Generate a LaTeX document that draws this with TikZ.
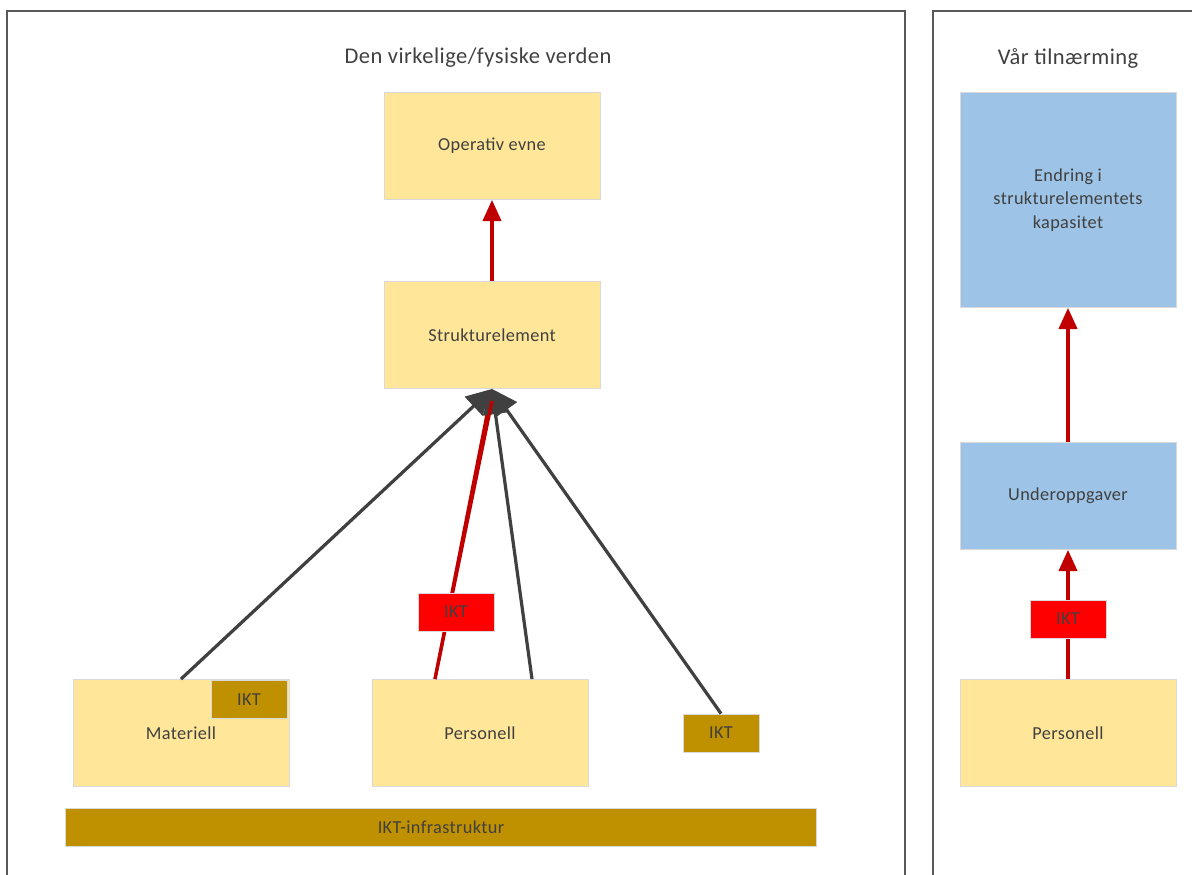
\documentclass[tikz,border=0pt]{standalone}
\usepackage{fontspec}
\setmainfont{Carlito}
\usetikzlibrary{arrows.meta,positioning}
\definecolor{gul}{HTML}{FFE699}
\definecolor{blaa}{HTML}{9DC3E6}
\definecolor{gull}{HTML}{BF9000}
\definecolor{rod}{HTML}{FF0000}
\definecolor{pil}{HTML}{C00000}
\definecolor{mork}{HTML}{404040}
\definecolor{kant}{HTML}{DAD8D8}
\definecolor{ramme}{HTML}{595959}
\tikzset{
  box/.style={draw=kant,fill=gul,align=center,inner sep=2pt,text=mork,
    font=\fontsize{13}{16.5}\selectfont\addfontfeature{LetterSpace=2},
    minimum width=5.4cm,minimum height=2.675cm,line width=0.6pt},
  bbox/.style={box,fill=blaa},
  ikt/.style={box,fill=gull,minimum width=1.9cm,minimum height=0.95cm},
  rikt/.style={ikt,fill=rod},
  ar/.style={-{Triangle[length=15pt,width=13pt]},line width=2.3pt,draw=pil},
  gr/.style={-{Triangle[length=18pt,width=18pt]},line width=2.3pt,draw=mork},
  tittel/.style={font=\fontsize{16}{19}\selectfont\addfontfeature{LetterSpace=2},text=mork},
}

\begin{document}
\begin{tikzpicture}[x=0.025cm,y=-0.025cm]
\useasboundingbox (0,0) rectangle (1192,875);
% rammer
\draw[ramme,line width=0.8pt] (7,880) -- (7,11) -- (905,11) -- (905,880);
\draw[ramme,line width=0.8pt] (933,880) -- (933,11) -- (1196,11);
\node[tittel] (t1) at (478,58) {Den virkelige/fysiske verden};
\node[tittel] (t2) at (1068,58) {Vår tilnærming};
% venstre side
\node[box] (opev) at (492,146) {Operativ evne};
\node[box] (strel) at (492,335) {Strukturelement};
\node[box] (mat) at (181,733) {Materiell};
\node[box] (pers) at (480,733) {Personell};
\node[ikt,anchor=north east] (ikt1) at ([xshift=-0.05cm,yshift=-0.03cm]mat.north east) {IKT};
\node[ikt] (ikt3) at (721,733) {IKT};
\node[box,fill=gull,minimum width=18.75cm,minimum height=0.95cm] (infra) at (441,827) {IKT-infrastruktur};
\coordinate (pr) at (435,679);
\coordinate (pg) at (532,679);
\draw[ar] (pr) -- (strel.south);
\draw[gr] (mat.north) -- (strel.south);
\draw[gr] (pg) -- (strel.south);
\draw[gr] (ikt3.north) -- (strel.south);
\draw[pil,line width=2.3pt] (pr) -- ([yshift=-0.3cm]strel.south);
\node[rikt] (ikt2) at (456,612) {IKT};
\draw[ar] (strel.north) -- (opev.south);
% hoyre side
\node[bbox,minimum height=5.375cm] (endr) at (1068,200) {Endring i\\strukturelementets\\kapasitet};
\node[bbox] (undo) at (1068,496) {Underoppgaver};
\node[box] (pers2) at (1068,733) {Personell};
\draw[ar] (pers2.north) -- (undo.south);
\node[rikt] (ikt4) at (1068,619) {IKT};
\draw[ar] (undo.north) -- (endr.south);
\end{tikzpicture}
\end{document}
